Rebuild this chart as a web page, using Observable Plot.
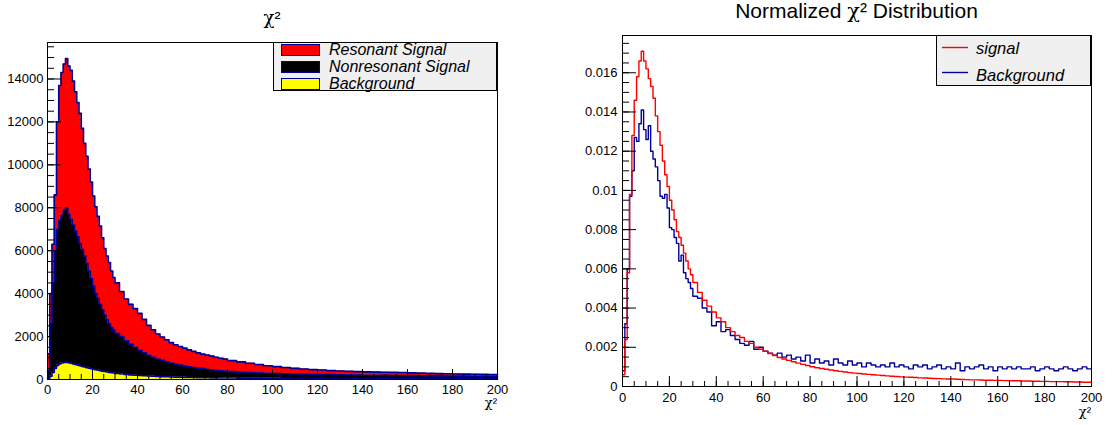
<!DOCTYPE html>
<html>
<head>
<meta charset="utf-8">
<script src="https://cdn.jsdelivr.net/npm/d3@7"></script>
<script src="https://cdn.jsdelivr.net/npm/@observablehq/plot@0.6"></script>
<style>
  body { margin: 0; background: #fff; font-family: "Liberation Sans", Arial, Helvetica, sans-serif; }
  #wrap { position: relative; width: 1115px; height: 425px; overflow: hidden; background: #fff; }
  .abs { position: absolute; white-space: nowrap; line-height: 1; color: #000; }
  .legbox { position: absolute; box-sizing: border-box; border: 1px solid #000; background: #f0f0f0; }
  .sw { position: absolute; box-sizing: border-box; border: 1px solid #000099; }
  .it { font-style: italic; }
  .chi { font-family: "DejaVu Serif", "Liberation Serif", serif; }
</style>
</head>
<body>
<div id="wrap"></div>
<script>
// ---------------- DATA ----------------
// Left panel: stacked χ² histogram (bin lower edges, last entry is the upper edge of the final bin)
const leftEdges = [0,1,2,3,4,5,6,7,8,9,10,11,12,13,14,15,16,17,18,19,20,21,22,23,24,25,26,27,28,29,30,
  32,34,36,38,40,42,44,46,48,50,52,54,56,58,60,62,64,66,68,70,72,74,76,78,80,
  84,88,92,96,100,104,108,112,116,120,124,128,132,136,140,144,148,152,156,160,164,168,172,176,180,184,188,192,196,200];

const resonantSignal = [800,1400,1800,2600,5000,6300,6650,6800,6950,6900,6950,6700,6500,6250,6050,5650,5250,5000,4750,4500,4200,4050,3800,3650,3350,3100,2970,2850,2630,2450,
  2350,2100,1950,1850,1800,1730,1560,1390,1290,1170,1090,1020,950,900,870,830,790,750,710,675,660,635,610,580,560,
  515,475,435,392,348,320,292,262,240,220,208,190,177,168,159,155,149,144,143,142,131,120,114,108,102,99,95,94,91,87];

const nonresonantSignal = [370,2450,4170,5480,6340,6670,6880,7110,7200,6920,6690,6470,6200,5980,5710,5440,5170,4845,4520,4195,3870,3545,3370,3090,2860,2630,2430,2270,2105,2000,
  1870,1745,1565,1435,1300,1165,1068,970,880,810,758,705,652,608,564,529,494,468,442,421,399,377,355,338,320,
  298,281,264,250,236,226,216,208,202,193,186,180,174,169,164,159,156,152,149,146,142,139,135,132,128,125,121,118,114,111];

const backgroundStack = [30,150,330,520,660,730,770,790,800,780,760,730,700,670,640,610,580,555,530,505,480,455,430,410,390,370,350,330,315,300,
  280,255,235,215,200,185,172,160,150,140,132,125,118,112,106,101,96,92,88,84,81,78,75,72,70,
  67,64,61,58,56,54,52,50,48,47,46,45,44,43,42,41,40,39,38,37,37,36,36,35,35,34,34,33,33,32];

const leftSeriesNames = ["Resonant Signal", "Nonresonant Signal", "Background"];
const leftYTicks = [0,2000,4000,6000,8000,10000,12000,14000];

// Right panel: normalized distributions
const rightEdges = [0,1,2,3,4,5,6,7,8,9,10,11,12,13,14,15,16,17,18,19,20,21,22,23,24,25,26,27,28,29,30,
  32,34,36,38,40,42,44,46,48,50,52,54,56,58,60,62,64,66,68,70,72,74,76,78,80,82,84,86,88,90,92,94,96,98,100,
  102,104,106,108,110,112,114,116,118,120,122,124,126,128,130,132,134,136,138,140,142,144,146,148,150,
  152,154,156,158,160,162,164,166,168,170,172,174,176,178,180,182,184,186,188,190,192,194,196,198,200];

const signalNorm = [0.0006,0.0024,0.0058,0.0098,0.0128,0.0146,0.0158,0.0166,0.0171,0.0166,0.0162,0.0157,0.0153,0.0147,0.0138,0.0130,0.0123,0.0115,0.0108,0.0102,0.0095,0.0090,0.0085,0.0079,0.0076,0.0072,0.0068,0.0064,0.0060,0.0057,
  0.0053,0.0048,0.0044,0.0041,0.0038,0.0035,0.0033,0.0030,0.0028,0.0026,0.0025,0.0023,0.0022,0.0020,0.0019,0.0018,0.00168,0.00158,0.00148,0.00140,
  0.00133,0.00126,0.00119,0.00113,0.00107,0.00101,0.00096,0.00092,0.00088,0.00084,0.00080,0.00077,0.00074,0.00071,0.00068,
  0.00066,0.00064,0.00062,0.00060,0.00058,0.00056,0.00054,0.00052,0.00051,0.00049,0.00048,0.00047,0.00046,0.00044,0.00043,
  0.00042,0.00041,0.00040,0.00039,0.00038,0.00038,0.00037,0.00036,0.00035,0.00034,0.00034,0.00033,0.00032,0.00032,0.00031,
  0.00031,0.00030,0.00030,0.00029,0.00029,0.00028,0.00028,0.00027,0.00027,0.00026,0.00026,0.00025,0.00025,0.00025,0.00024,
  0.00024,0.00023,0.00023,0.00022,0.00022];

const backgroundNorm = [0.0008,0.0032,0.0060,0.0097,0.0110,0.0127,0.0125,0.0134,0.0141,0.0131,0.0126,0.0133,0.0120,0.0116,0.0112,0.0105,0.0097,0.0096,0.0098,0.0091,0.0081,0.0080,0.0076,0.0073,0.0064,0.0067,0.0058,0.0055,0.0053,0.0050,
  0.0046,0.0045,0.0040,0.0038,0.0031,0.0033,0.0028,0.0029,0.0026,0.0024,0.0022,0.0021,0.0023,0.0019,0.0020,0.0018,0.0017,0.0016,0.0017,0.0015,
  0.0016,0.0014,0.0015,0.0013,0.0016,0.0012,0.0014,0.0012,0.0013,0.0011,0.0014,0.0012,0.0011,0.0013,0.0011,
  0.0012,0.0010,0.0012,0.0011,0.0010,0.0011,0.0010,0.0012,0.0010,0.0011,0.0010,0.0009,0.0011,0.0010,0.0011,
  0.0009,0.0010,0.0011,0.0009,0.0010,0.0009,0.0012,0.0008,0.0010,0.0009,0.0010,0.0011,0.0009,0.0010,0.0008,
  0.0010,0.0009,0.0010,0.0009,0.0010,0.0009,0.0009,0.0010,0.0008,0.0009,0.0010,0.0009,0.0008,0.0009,0.0010,
  0.0009,0.0008,0.0009,0.0010,0.0009];

const rightSeriesNames = ["signal", "Background"];
const rightYTicks = [0,0.002,0.004,0.006,0.008,0.010,0.012,0.014,0.016];
const xTicks = [0,20,40,60,80,100,120,140,160,180,200];

// ---------------- BUILD ----------------
function toRows(edges, list) {
  const rows = [];
  for (const [name, vals] of list) {
    for (let i = 0; i < vals.length; i++) rows.push({x: edges[i], value: vals[i], series: name});
    rows.push({x: edges[vals.length], value: vals[vals.length - 1], series: name});
  }
  return rows;
}

const leftRows = toRows(leftEdges, [
  ["Background", backgroundStack],
  ["Nonresonant Signal", nonresonantSignal],
  ["Resonant Signal", resonantSignal]
]);
const stackOrder = ["Background", "Nonresonant Signal", "Resonant Signal"];

const rightRows = toRows(rightEdges, [
  ["Background", backgroundNorm],
  ["signal", signalNorm]
]);

const xMinor = d3.range(0, 201, 5);
const font = '"Liberation Sans", Arial, Helvetica, sans-serif';
const svgStyle = {fontFamily: font, fontSize: "13px", color: "#000", background: "transparent", overflow: "visible"};

const leftPlot = Plot.plot({
  width: 540, height: 425,
  marginLeft: 47, marginRight: 43, marginTop: 42, marginBottom: 46,
  x: {domain: [0, 200]},
  y: {domain: [0, 15700]},
  color: {domain: leftSeriesNames, range: ["#ff0000", "#000000", "#ffff00"]},
  style: svgStyle,
  marks: [
    Plot.areaY(leftRows, {x: "x", y: "value", z: "series", fill: "series", order: stackOrder, curve: "step-after"}),
    Plot.lineY(leftRows, Plot.stackY2({x: "x", y: "value", z: "series", order: stackOrder, stroke: "#000099", strokeWidth: 1.6, curve: "step-after"})),
    Plot.axisY({ticks: d3.range(0, 15701, 500), tickSize: -7, tickFormat: () => "", label: null}),
    Plot.axisY({ticks: leftYTicks, tickSize: -14, tickPadding: 18, tickFormat: d => String(d), label: null}),
    Plot.axisX({ticks: xMinor, tickSize: -5, tickFormat: () => "", label: null}),
    Plot.axisX({ticks: xTicks, tickSize: -10, tickPadding: 15, tickFormat: d => String(d), label: null}),
    Plot.frame({stroke: "#000"})
  ]
});

const rightPlot = Plot.plot({
  width: 558, height: 425,
  marginLeft: 65, marginRight: 24, marginTop: 35, marginBottom: 39,
  x: {domain: [0, 200]},
  y: {domain: [0, 0.0179]},
  color: {domain: rightSeriesNames, range: ["#ff0000", "#000099"]},
  style: svgStyle,
  marks: [
    Plot.lineY(rightRows, {x: "x", y: "value", z: "series", stroke: "series", strokeWidth: 1.4, curve: "step-after"}),
    Plot.axisY({ticks: d3.range(0, 0.01791, 0.0005), tickSize: -7, tickFormat: () => "", label: null}),
    Plot.axisY({ticks: rightYTicks, tickSize: -14, tickPadding: 19, tickFormat: d => String(+d.toFixed(3)), label: null}),
    Plot.axisX({ticks: xMinor, tickSize: -5, tickFormat: () => "", label: null}),
    Plot.axisX({ticks: xTicks, tickSize: -10, tickPadding: 16, tickFormat: d => String(d), label: null}),
    Plot.frame({stroke: "#000"})
  ]
});

const wrap = document.getElementById("wrap");
leftPlot.style.position = "absolute"; leftPlot.style.left = "0px"; leftPlot.style.top = "0px";
rightPlot.style.position = "absolute"; rightPlot.style.left = "557px"; rightPlot.style.top = "0px";
wrap.appendChild(leftPlot);
wrap.appendChild(rightPlot);

function addDiv(cls, css, html) {
  const d = document.createElement("div");
  d.className = cls;
  d.style.cssText = css;
  if (html != null) d.innerHTML = html;
  wrap.appendChild(d);
  return d;
}

// Titles
addDiv("abs", "left:272px;top:9px;font-size:18px;transform:translateX(-50%);", '<span class="chi">χ</span>²');
addDiv("abs", "left:856.5px;top:0px;font-size:21px;transform:translateX(-50%);", 'Normalized <span class="chi">χ</span>² Distribution');
// Axis titles
addDiv("abs", "right:618px;top:396px;font-size:13px;", '<span class="chi">χ</span>²');
addDiv("abs", "right:24px;top:404.5px;font-size:13px;", '<span class="chi">χ</span>²');

// Left legend
addDiv("legbox", "left:273px;top:42px;width:224px;height:49px;");
const leftSwatch = ["#ff0000", "#000000", "#ffff00"];
const leftSwTop = [44, 61, 78];
const leftTxtTop = [42.2, 59.2, 75.8];
leftSeriesNames.forEach((name, i) => {
  addDiv("sw", `left:281px;top:${leftSwTop[i]}px;width:39px;height:12px;background:${leftSwatch[i]};`);
  addDiv("abs it", `left:329px;top:${leftTxtTop[i]}px;font-size:16px;`, name);
});

// Right legend
addDiv("legbox", "left:936px;top:35px;width:155px;height:51px;");
const rightLine = ["#ff0000", "#000099"];
const rightLnY = [47.5, 72.5];
const rightTxtTop = [40.3, 66.7];
const NS = "http://www.w3.org/2000/svg";
const legSvg = document.createElementNS(NS, "svg");
legSvg.setAttribute("width", "40"); legSvg.setAttribute("height", "60");
legSvg.style.cssText = "position:absolute;left:938px;top:30px;overflow:visible;";
rightSeriesNames.forEach((name, i) => {
  const l = document.createElementNS(NS, "line");
  l.setAttribute("x1", 4); l.setAttribute("x2", 30);
  l.setAttribute("y1", rightLnY[i] - 30); l.setAttribute("y2", rightLnY[i] - 30);
  l.setAttribute("stroke", rightLine[i]); l.setAttribute("stroke-width", 1.4);
  legSvg.appendChild(l);
  addDiv("abs it", `left:976px;top:${rightTxtTop[i]}px;font-size:16.5px;`, name);
});
wrap.appendChild(legSvg);
</script>
</body>
</html>
